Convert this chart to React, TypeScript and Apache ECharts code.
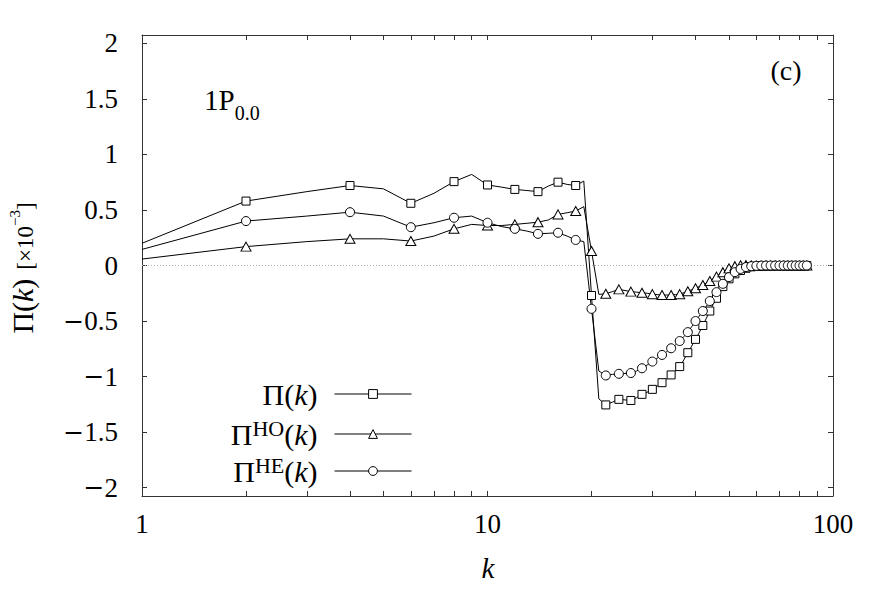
import React, { useEffect, useRef } from 'react';
import * as echarts from 'echarts';

const kValues = [
  1, 2, 3, 4, 5, 6, 7, 8, 9, 10, 11, 12, 13, 14, 15, 16, 17, 18, 19, 20,
  21, 22, 23, 24, 25, 26, 27, 28, 29, 30, 31, 32, 33, 34, 35, 36, 37, 38, 39, 40,
  41, 42, 43, 44, 45, 46, 47, 48, 49, 50, 51, 52, 53, 54, 55, 56, 57, 58, 59, 60,
  61, 62, 63, 64, 65, 66, 67, 68, 69, 70, 71, 72, 73, 74, 75, 76, 77, 78, 79, 80,
  81, 82, 83, 84, 85,
];

const piTotal = [
  0.2, 0.58, 0.665, 0.72, 0.69, 0.56, 0.65, 0.755, 0.82, 0.725,
  0.705, 0.685, 0.675, 0.665, 0.715, 0.75, 0.73, 0.72, 0.76, -0.27,
  -1.2, -1.255, -1.23, -1.205, -1.21, -1.215, -1.19, -1.16, -1.14, -1.115,
  -1.085, -1.055, -1.02, -0.985, -0.95, -0.91, -0.85, -0.785, -0.725, -0.665,
  -0.605, -0.54, -0.475, -0.41, -0.35, -0.295, -0.24, -0.19, -0.155, -0.12,
  -0.095, -0.075, -0.058, -0.045, -0.034, -0.025, -0.018, -0.012, -0.008, -0.006,
  -0.004, -0.003, -0.002, -0.002, -0.001, -0.001, 0, 0, 0, 0,
  0, 0, 0, 0, 0, 0, 0, 0, 0, 0,
  0, 0, 0, 0, 0,
];

const piHO = [
  0.058, 0.17, 0.215, 0.24, 0.24, 0.22, 0.265, 0.33, 0.37, 0.36,
  0.36, 0.37, 0.38, 0.39, 0.41, 0.46, 0.475, 0.49, 0.53, 0.13,
  -0.26, -0.255, -0.235, -0.215, -0.225, -0.235, -0.24, -0.245, -0.25, -0.258,
  -0.262, -0.265, -0.266, -0.265, -0.262, -0.258, -0.245, -0.232, -0.218, -0.205,
  -0.19, -0.176, -0.158, -0.14, -0.12, -0.1, -0.08, -0.06, -0.042, -0.026,
  -0.014, -0.006, -0.001, 0.002, 0.003, 0.003, 0.002, 0.001, 0.001, 0,
  0, 0, 0, 0, 0, 0, 0, 0, 0, 0,
  0, 0, 0, 0, 0, 0, 0, 0, 0, 0,
  0, 0, 0, 0, 0,
];

const piHE = [
  0.145, 0.4, 0.445, 0.48, 0.445, 0.345, 0.385, 0.43, 0.445, 0.385,
  0.35, 0.33, 0.31, 0.285, 0.29, 0.295, 0.265, 0.23, 0.215, -0.39,
  -0.95, -0.99, -0.98, -0.975, -0.972, -0.968, -0.95, -0.925, -0.895, -0.865,
  -0.835, -0.805, -0.775, -0.745, -0.715, -0.68, -0.64, -0.6, -0.55, -0.5,
  -0.455, -0.41, -0.365, -0.32, -0.28, -0.24, -0.2, -0.165, -0.133, -0.105,
  -0.08, -0.06, -0.044, -0.031, -0.021, -0.014, -0.009, -0.006, -0.004, -0.003,
  -0.002, -0.001, 0, 0, 0, 0, 0, 0, 0, 0,
  0, 0, 0, 0, 0, 0, 0, 0, 0, 0,
  0, 0, 0, 0, 0,
];

const xTickValues = [1, 2, 3, 4, 5, 6, 7, 8, 9, 10, 20, 30, 40, 50, 60, 70, 80, 90, 100];
const xLabelValues = [1, 10, 100];
const yTickValues = [-2, -1.5, -1, -0.5, 0, 0.5, 1, 1.5, 2];

const seriesNames = ['Π(k)', 'ΠHO(k)', 'ΠHE(k)'];
const seriesSymbols = ['rect', 'triangle', 'circle'];
const legendRich = [
  '{n|Π(}{i|k}{e|)}',
  '{n|Π}{sup|HO}{n|(}{i|k}{e|)}',
  '{n|Π}{sup|HE}{n|(}{i|k}{e|)}',
];

const FONT = "'Liberation Serif', 'DejaVu Serif', serif";
const MINUS_FONT = "'DejaVu Serif', 'Liberation Serif', serif";
const TICK_SIZE = 27;
const LEG_SIZE = 30;

const richStyles = {
  n: { fontFamily: FONT, fontSize: LEG_SIZE, color: '#000', lineHeight: 34 },
  e: { fontFamily: FONT, fontSize: LEG_SIZE, color: '#000', lineHeight: 34, padding: [0, 12, 0, 0] },
  i: { fontFamily: FONT, fontSize: LEG_SIZE, fontStyle: 'italic', color: '#000', lineHeight: 34 },
  sup: { fontFamily: FONT, fontSize: 22, color: '#000', lineHeight: 22, verticalAlign: 'top' },
};

const tickRich = {
  m: { fontFamily: MINUS_FONT, fontSize: TICK_SIZE - 2, color: '#000' },
};

function buildData(values: number[], symbol: string) {
  return kValues.map((k, i) => ({
    value: [k, values[i]],
    symbol: k % 2 === 0 ? symbol : 'none',
  }));
}

function fmtY(v: number) {
  if (v === 0) return '0';
  return (v < 0 ? '{m|\u2212}' : '') + String(Math.abs(v));
}

export default function App() {
  const ref = useRef<HTMLDivElement>(null);

  useEffect(() => {
    if (!ref.current) return;
    const chart = echarts.init(ref.current, null, { renderer: 'svg' });

    const seriesValues = [piTotal, piHO, piHE];
    const symbolSizes: any[] = [8, [10, 9], 9];

    const series: any[] = seriesValues.map((vals, idx) => ({
      type: 'line',
      name: seriesNames[idx],
      data: buildData(vals, seriesSymbols[idx]),
      symbol: seriesSymbols[idx],
      symbolSize: symbolSizes[idx],
      showAllSymbol: true,
      lineStyle: { color: '#000', width: 1 },
      itemStyle: { color: '#fff', borderColor: '#000', borderWidth: 1 },
      emphasis: { disabled: true },
      z: 3,
    }));

    series[0].markLine = {
      silent: true,
      symbol: ['none', 'none'],
      label: { show: false },
      lineStyle: { color: '#b0b0b0', type: [1, 2], width: 1 },
      emphasis: { disabled: true },
      data: [{ yAxis: 0 }],
      z: 1,
    };

    const axisLineStyle = { show: true, onZero: false, lineStyle: { color: '#333', width: 1 } };
    const tickStyle = { lineStyle: { color: '#333', width: 1 } };

    const legendTops = [379, 417, 454];

    const option: any = {
      animation: false,
      backgroundColor: '#fff',
      grid: {
        left: 142,
        right: 53,
        top: 35,
        bottom: 95,
        containLabel: false,
        outerBoundsMode: 'none',
      },
      xAxis: [
        {
          type: 'log',
          logBase: 10,
          min: 1,
          max: 100,
          position: 'bottom',
          axisLine: axisLineStyle,
          axisTick: { show: true, inside: true, length: 5, customValues: xTickValues, ...tickStyle },
          minorTick: { show: false },
          splitLine: { show: false },
          axisLabel: {
            show: true,
            customValues: xLabelValues,
            margin: 14,
            fontFamily: FONT,
            fontSize: TICK_SIZE,
            color: '#000',
            formatter: (v: number) => String(Math.round(v)),
          },
        },
        {
          type: 'log',
          logBase: 10,
          min: 1,
          max: 100,
          position: 'top',
          axisLine: axisLineStyle,
          axisTick: { show: true, inside: true, length: 5, customValues: xTickValues, ...tickStyle },
          splitLine: { show: false },
          axisLabel: { show: false },
        },
      ],
      yAxis: [
        {
          type: 'value',
          min: -2.075,
          max: 2.075,
          position: 'left',
          axisLine: axisLineStyle,
          axisTick: { show: true, inside: true, length: 5, customValues: yTickValues, ...tickStyle },
          splitLine: { show: false },
          axisLabel: {
            show: true,
            customValues: yTickValues,
            margin: 24,
            fontFamily: FONT,
            fontSize: TICK_SIZE,
            color: '#000',
            rich: tickRich,
            formatter: (v: number) => fmtY(Math.round(v * 10) / 10),
          },
        },
        {
          type: 'value',
          min: -2.075,
          max: 2.075,
          position: 'right',
          axisLine: axisLineStyle,
          axisTick: { show: true, inside: true, length: 5, customValues: yTickValues, ...tickStyle },
          splitLine: { show: false },
          axisLabel: { show: false },
        },
      ],
      legend: seriesNames.map((name, idx) => ({
        data: [name],
        orient: 'vertical',
        right: 474,
        top: legendTops[idx],
        padding: 0,
        align: 'right',
        itemWidth: 77,
        itemHeight: 11,
        selectedMode: false,
        formatter: () => legendRich[idx],
        itemStyle: { color: '#fff', borderColor: '#000', borderWidth: 1 },
        lineStyle: { color: '#000', width: 1 },
        textStyle: { fontFamily: FONT, fontSize: LEG_SIZE, color: '#000', rich: richStyles },
      })),
      graphic: [
        {
          type: 'text',
          x: 22,
          y: 268,
          rotation: Math.PI / 2,
          style: {
            text: '{n|Π(}{i|k}{n|)}{g|}{s|[×10}{ss|−3}{s|]}',
            align: 'center',
            verticalAlign: 'middle',
            rich: {
              n: { fontFamily: FONT, fontSize: 30, color: '#000', lineHeight: 34 },
              i: { fontFamily: FONT, fontSize: 30, fontStyle: 'italic', color: '#000', lineHeight: 34 },
              g: { width: 9, lineHeight: 34 },
              s: { fontFamily: FONT, fontSize: 23, color: '#000', lineHeight: 28, verticalAlign: 'bottom', padding: [0, 0, 2, 0] },
              ss: { fontFamily: FONT, fontSize: 15, color: '#000', lineHeight: 15, verticalAlign: 'top', padding: [2, 0, 0, 0] },
            },
          },
        },
        {
          type: 'text',
          x: 488,
          y: 568,
          style: {
            text: 'k',
            align: 'center',
            verticalAlign: 'middle',
            fontFamily: FONT,
            fontSize: 29,
            fontStyle: 'italic',
            fill: '#000',
          },
        },
        {
          type: 'text',
          x: 204,
          y: 104,
          style: {
            text: '{n|1P}{sub|0.0}',
            align: 'left',
            verticalAlign: 'middle',
            rich: {
              n: { fontFamily: FONT, fontSize: 29, color: '#000', lineHeight: 38, verticalAlign: 'top' },
              sub: { fontFamily: FONT, fontSize: 20, color: '#000', lineHeight: 20, verticalAlign: 'bottom' },
            },
          },
        },
        {
          type: 'text',
          x: 786,
          y: 70,
          style: {
            text: '(c)',
            align: 'center',
            verticalAlign: 'middle',
            fontFamily: FONT,
            fontSize: 28,
            fill: '#000',
          },
        },
      ],
      series,
    };

    chart.setOption(option);
    return () => chart.dispose();
  }, []);

  return (
    <div
      ref={ref}
      style={{ position: 'fixed', left: 0, top: 0, width: 886, height: 591, background: '#fff' }}
    />
  );
}
